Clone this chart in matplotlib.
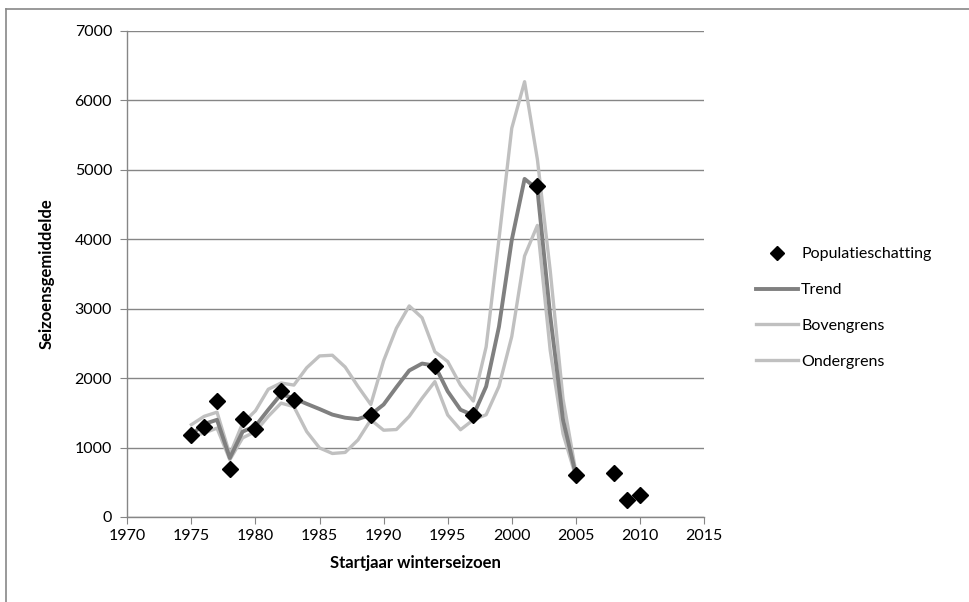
import matplotlib
matplotlib.use("Agg")
import matplotlib.pyplot as plt
from matplotlib.lines import Line2D

plt.rcParams['font.family'] = ['Lato', 'DejaVu Sans']

years = list(range(1975, 2006))
trend = [1185, 1340, 1400, 850, 1230, 1310, 1545, 1770, 1710, 1630,
         1555, 1475, 1430, 1410, 1475, 1620, 1870, 2110, 2210, 2180,
         1810, 1545, 1465, 1880, 2740, 3990, 4870, 4720, 2900, 1400, 610]
bovengrens = [1330, 1450, 1510, 900, 1350, 1530, 1840, 1930, 1900, 2150,
              2320, 2330, 2160, 1880, 1620, 2250, 2720, 3040, 2870, 2380,
              2240, 1900, 1670, 2450, 4000, 5600, 6270, 5150, 3550, 1700, 650]
ondergrens = [1160, 1210, 1280, 825, 1140, 1230, 1450, 1640, 1590, 1230,
              995, 915, 930, 1110, 1400, 1250, 1260, 1450, 1710, 1950,
              1470, 1257, 1400, 1473, 1881, 2600, 3760, 4200, 2400, 1200, 580]

est_years = [1975, 1976, 1977, 1978, 1979, 1980, 1982, 1983, 1989, 1994,
             1997, 2002, 2005, 2008, 2009, 2010]
est_values = [1185, 1296, 1670, 691, 1411, 1262, 1820, 1690, 1470, 2178,
              1465, 4767, 609, 629, 245, 317]

xticks = list(range(1970, 2016, 5))
yticks = list(range(0, 7001, 1000))

fig = plt.figure(figsize=(9.69, 6.02), dpi=100)
ax = fig.add_axes([127.3/969, 1-517/602, (704-127.3)/969, (517-31)/602])

grid_c = '#868686'
ax.plot(years, bovengrens, color='#c0c0c0', lw=2.4, label='Bovengrens', zorder=3)
ax.plot(years, ondergrens, color='#c0c0c0', lw=2.4, label='Ondergrens', zorder=3)
ax.plot(years, trend, color='#808080', lw=2.8, label='Trend', zorder=4)
ax.plot(est_years, est_values, linestyle='none', marker='D', markersize=8.5,
        color='black', label='Populatieschatting', zorder=5)

ax.set_xlim(1970, 2015)
ax.set_ylim(0, 7000)
ax.set_xticks(xticks)
ax.set_yticks(yticks)
ax.yaxis.grid(True, color=grid_c, lw=1)
ax.set_axisbelow(True)
for s in ['top', 'right']:
    ax.spines[s].set_visible(False)
for s in ['left', 'bottom']:
    ax.spines[s].set_color(grid_c)
    ax.spines[s].set_linewidth(1)
ax.tick_params(axis='both', direction='out', length=5, color=grid_c,
               labelsize=11.5, labelcolor='black')
ax.tick_params(axis='y', pad=6)
ax.tick_params(axis='x', pad=4)

ax.set_xlabel('Startjaar winterseizoen', fontsize=12, fontweight='bold', labelpad=8)
ax.set_ylabel('Seizoensgemiddelde', fontsize=12, fontweight='bold', labelpad=14)

handles, labels = ax.get_legend_handles_labels()
order = [3, 2, 0, 1]
leg = fig.legend([handles[i] for i in order], [labels[i] for i in order],
                 loc='center left', bbox_to_anchor=(742/969, 1-308/602),
                 frameon=False, fontsize=11.5, handlelength=2.6,
                 handletextpad=0.2, labelspacing=1.35, markerscale=0.85)

# outer frame
fig.add_artist(Line2D([6/969, 6/969], [0, 1-9/602], transform=fig.transFigure,
                      color='#888888', lw=1.2))
fig.add_artist(Line2D([6/969, 1], [1-9/602, 1-9/602], transform=fig.transFigure,
                      color='#888888', lw=1.2))

fig.savefig('out.png', dpi=100)
